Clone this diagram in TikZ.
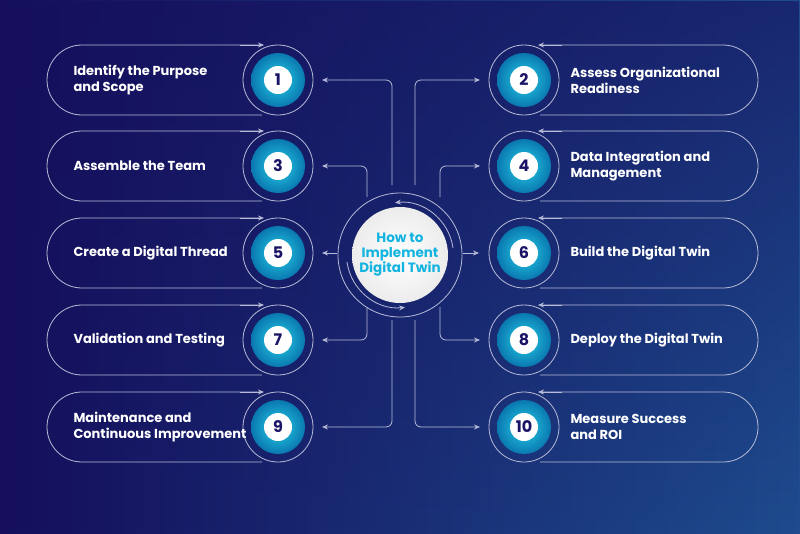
\documentclass[tikz,border=0pt]{standalone}
\usepackage{fontspec}
\setmainfont{Poppins}
\usetikzlibrary{arrows.meta,fadings}
\definecolor{bgA}{HTML}{150F5C}
\definecolor{bgB}{HTML}{1E4C8E}
\definecolor{tealA}{HTML}{25D0E8}
\definecolor{tealB}{HTML}{0A78B0}
\definecolor{navy}{HTML}{1A1466}
\definecolor{ln}{HTML}{B8BCD8}
\definecolor{cyanT}{HTML}{14B4E0}
\tikzset{
  wire/.style={draw=ln,line width=0.8pt,rounded corners=6pt},
  arr/.style={wire,-{Stealth[length=6pt,width=5pt]}},
  pilltext/.style={text=white,font=\bfseries\fontsize{13}{16}\selectfont,align=left,anchor=west},
  numtext/.style={text=navy,font=\bfseries\fontsize{16}{16}\selectfont},
}
\newcommand{\stepL}[4]{% y, name, number, text
  \draw[ln,line width=0.8pt] (262,#1+35) -- (82,#1+35) arc[start angle=90,end angle=270,radius=35] -- (262,#1-35);
  \draw[ln,line width=0.8pt,-{Stealth[length=6pt,width=5pt]}] (240,#1-35) -- (264,#1-35);
  \draw[ln,line width=0.8pt] (278,#1) circle[radius=35];
  \shade[inner color=tealA,outer color=tealB] (278,#1) circle[radius=27];
  \fill[white] (278,#1) circle[radius=14];
  \node[numtext] (n#2) at (278,#1) {#3};
  \node[pilltext] (t#2) at (70,#1) {#4};
}
\newcommand{\stepR}[4]{%
  \draw[ln,line width=0.8pt] (540,#1+35) -- (723,#1+35) arc[start angle=90,end angle=-90,radius=35] -- (540,#1-35);
  \draw[ln,line width=0.8pt,-{Stealth[length=6pt,width=5pt]}] (562,#1-35) -- (538,#1-35);
  \draw[ln,line width=0.8pt] (524,#1) circle[radius=35];
  \shade[inner color=tealA,outer color=tealB] (524,#1) circle[radius=27];
  \fill[white] (524,#1) circle[radius=14];
  \node[numtext] (n#2) at (524,#1) {#3};
  \node[pilltext] (t#2) at (567,#1) {#4};
}
\begin{document}
\begin{tikzpicture}[x=1pt,y=-1pt]
\shade[left color=bgA,right color=bgB] (0,0) rectangle (800,533);
\fill[bgA,path fading=south,opacity=0.6] (0,0) rectangle (800,533);
\useasboundingbox (0,0) rectangle (800,533);
% center
\draw[ln,line width=0.8pt] (400,255) circle[radius=62];
\draw[ln,line width=0.8pt,-{Stealth[length=6pt,width=5pt]}] (347,262) arc[start angle=172,end angle=84,radius=53];
\draw[ln,line width=0.8pt,-{Stealth[length=6pt,width=5pt]}] (453,248) arc[start angle=-8,end angle=-96,radius=53];
\shade[inner color=white,outer color=white!85!gray] (400,255) circle[radius=48];
\node[text=cyanT,font=\bfseries\fontsize{13.5}{15}\selectfont,align=center] (c) at (400,255) {How to\\Implement\\Digital Twin};
\stepL{80}{1}{1}{Identify the Purpose\\and Scope}
\stepL{166}{3}{3}{Assemble the Team}
\stepL{253}{5}{5}{Create a Digital Thread}
\stepL{340}{7}{7}{Validation and Testing}
\stepL{427}{9}{9}{Maintenance and\\Continuous Improvement}
\stepR{80}{2}{2}{Assess Organizational\\Readiness}
\stepR{166}{4}{4}{Data Integration and\\Management}
\stepR{253}{6}{6}{Build the Digital Twin}
\stepR{340}{8}{8}{Deploy the Digital Twin}
\stepR{427}{10}{10}{Measure Success\\and ROI}
% connectors
\coordinate (s1) at (392,185); \coordinate (s3) at (367,197);
\coordinate (s2) at (415,185); \coordinate (s4) at (440,197);
\coordinate (s7) at (367,307); \coordinate (s9) at (392,320);
\coordinate (s8) at (440,307); \coordinate (s10) at (415,320);
\draw[arr] (s1) |- (322,80);
\draw[arr] (s3) |- (322,166);
\draw[arr] (337,253) -- (322,253);
\draw[arr] (s7) |- (322,340);
\draw[arr] (s9) |- (322,427);
\draw[arr] (s2) |- (480,80);
\draw[arr] (s4) |- (480,166);
\draw[arr] (463,253) -- (479,253);
\draw[arr] (s8) |- (480,340);
\draw[arr] (s10) |- (480,427);
\end{tikzpicture}
\end{document}
